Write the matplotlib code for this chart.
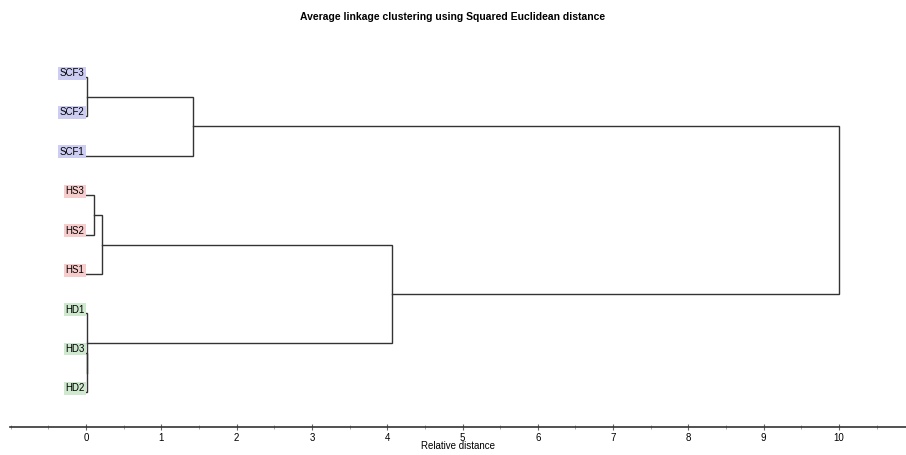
import matplotlib.pyplot as plt
from matplotlib.ticker import MultipleLocator

# leaves top to bottom, with group colour
leaves = ['SCF3', 'SCF2', 'SCF1', 'HS3', 'HS2', 'HS1', 'HD1', 'HD3', 'HD2']
groups = ['SCF', 'SCF', 'SCF', 'HS', 'HS', 'HS', 'HD', 'HD', 'HD']
group_colors = {'SCF': '#cdcdf4', 'HS': '#f6cccc', 'HD': '#cfe9cf'}

# merges: (left node, right node, height); new nodes numbered after leaves
merges = [
    (0, 1, 0.01),    # 9  SCF3+SCF2
    (9, 2, 1.42),    # 10 +SCF1
    (3, 4, 0.11),    # 11 HS3+HS2
    (11, 5, 0.21),   # 12 +HS1
    (7, 8, 0.01),    # 13 HD3+HD2
    (6, 13, 0.01),   # 14 +HD1
    (12, 14, 4.06),  # 15 HS+HD
    (10, 15, 10.0),  # 16 root
]
xticks = list(range(0, 11))

title = 'Average linkage clustering using Squared Euclidean distance'
xlabel = 'Relative distance'

fig = plt.figure(figsize=(9.06, 4.55), dpi=100)
ax = fig.add_axes([10 / 906, 28 / 455, 1 - 10 / 906, 389.4 / 455])

pos = {i: (0.0, float(i)) for i in range(len(leaves))}
lc = '#333333'
for k, (a, b, h) in enumerate(merges):
    xa, ya = pos[a]
    xb, yb = pos[b]
    ax.plot([xa, h, h, xb], [ya, ya, yb, yb], color=lc, lw=1.0, solid_joinstyle='miter')
    pos[len(leaves) + k] = (h, (ya + yb) / 2)

for i, (name, g) in enumerate(zip(leaves, groups)):
    ax.text(-0.02, i - 0.1, name, ha='right', va='center', fontsize=7,
            family='Liberation Sans',
            bbox=dict(boxstyle='square,pad=0.15', fc=group_colors[g], ec='none'))

ax.set_xlim(-1.01, 10.89)
ax.set_ylim(8.88, -1.0)
ax.set_yticks([])
for s in ['top', 'right', 'left']:
    ax.spines[s].set_visible(False)
ax.spines['bottom'].set_color('#333333')
ax.spines['bottom'].set_linewidth(1.2)
ax.set_xticks(xticks)
ax.xaxis.set_minor_locator(MultipleLocator(0.5))
ax.tick_params(axis='x', which='major', direction='inout', length=4, labelsize=7, pad=2, color='#666666')
ax.tick_params(axis='x', which='minor', direction='inout', length=3, color='#999999')
for lab in ax.get_xticklabels():
    lab.set_family('Liberation Sans')
ax.set_xlabel(xlabel, fontsize=7, family='Liberation Sans', labelpad=0)
ax.xaxis.set_label_coords(0.5, -0.037)
fig.text(0.5, 0.962, title, ha='center', va='center', fontsize=7.5, weight='bold', family='Liberation Sans')

fig.savefig('out.png', dpi=100)
